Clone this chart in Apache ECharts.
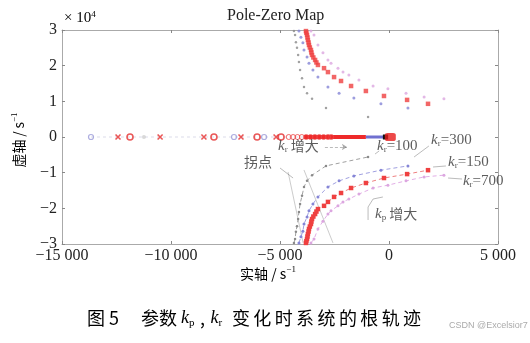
<!DOCTYPE html>
<html>
<head>
<meta charset="utf-8">
<script src="https://cdn.jsdelivr.net/npm/echarts/dist/echarts.min.js"></script>
<style>
  html, body { margin: 0; padding: 0; background: #fff; }
  #chart { width: 530px; height: 343px; }
</style>
</head>
<body>
<div id="chart"></div>
<script>
// Axis ticks
const xTicks = [-15000, -10000, -5000, 0, 5000];
const yTicks = [-30000, -20000, -10000, 0, 10000, 20000, 30000];

// Upper-half root-locus branches, [real, imag] in s^-1 (lower half is the conjugate)
const branchKr100 = [[-4360,29700],[-4310,28600],[-4270,26600],[-4220,25000],[-4170,23000],[-4130,21000],[-4080,18800],[-3990,16500],[-3900,14000],[-3760,12300],[-3530,10700],[-2890,8100],[-960,5600]];
const branchKr300 = [[-4130,29700],[-4040,28000],[-3950,26400],[-3900,24400],[-3760,22400],[-3670,20700],[-3490,18800],[-3260,16800],[-2800,14000],[-2290,12300],[-1610,10900],[-370,9300],[870,8100]];
const branchKr150 = [[-3810,29700],[-3790,29200],[-3760,28600],[-3740,27900],[-3720,27200],[-3690,26500],[-3670,25800],[-3630,25100],[-3580,24400],[-3560,23700],[-3530,23000],[-3470,22300],[-3390,21600],[-3330,20900],[-3260,20200],[-2980,19300],[-2800,18200],[-2520,16800],[-2200,15700],[-1740,14300],[-1060,12900],[-230,11500],[830,10400],[1790,9300]];
const branchKr700 = [[-3580,29700],[-3440,28600],[-3260,25800],[-3030,23600],[-2800,21600],[-2660,20700],[-2340,19300],[-2110,18200],[-1840,17400],[-1380,16000],[-730,14300],[-50,13500],[780,12300],[1610,11200],[2520,10700]];

// Real-axis poles and zeros, s^-1
const realCrosses = [-12430, -10500, -8490, -6790, -5180];
const realCirclesRed = [-11880, -8030, -6050, -4950];
const realCirclesBlue = [-13670, -7110, -5730];
const realGrey = [-11240];
const realDenseCircles = [-4600, -4400, -4200, -4000, -3800, -3600, -3400, -3200, -3000, -2800, -2650];
const realRedRun = [-3900, -1060];
const realBlueRun = [-1060, -260];
const realBlackRun = [-280, -40];
const originPole = [60];

const conj = arr => arr.map(([x, y]) => [x, -y]);
const onAxis = arr => arr.map(x => [x, 0]);

const SERIF = '"Liberation Serif", "DejaVu Serif", serif';
const CJK = '"Noto Sans CJK SC", sans-serif';

const rich = {
  k: { fontFamily: SERIF, fontStyle: 'italic', fontSize: 15, color: '#333' },
  s: { fontFamily: SERIF, fontSize: 9, color: '#333', padding: [8, 0, 0, 0] },
  t: { fontFamily: SERIF, fontSize: 15, color: '#333' },
  c: { fontFamily: CJK, fontSize: 14, color: '#333' }
};

// Annotation anchors (left-middle of each label), s^-1
const notes = [
  { pos: [-5090, -2520], text: '{k|k}{s|r}{c| 增大}' },
  { pos: [-550, -2520], text: '{k|k}{s|r}{t|=100}' },
  { pos: [1930, -840], text: '{k|k}{s|r}{t|=300}' },
  { pos: [2710, -7010], text: '{k|k}{s|r}{t|=150}' },
  { pos: [3390, -12340], text: '{k|k}{s|r}{t|=700}' },
  { pos: [-6650, -7010], text: '{c|拐点}' },
  { pos: [-640, -21590], text: '{k|k}{s|p}{c| 增大}' }
];

// Pointer / arrow paths, s^-1
const arrows = [
  { coords: [[-2940, -2800], [-1930, -2800]], dashed: true },
  { coords: [[-450, -3900], [-640, -4770]] },
  { coords: [[1830, -2520], [1150, -5610]] },
  { coords: [[2610, -8130], [2020, -8410]] },
  { coords: [[3350, -11780], [2710, -11500]] },
  { coords: [[-5000, -8690], [-4400, -11500]] },
  { coords: [[-280, -16820], [-730, -17390], [-960, -19630], [-960, -23270]] }
];
const inflectionLines = [
  [[-4630, -9810], [-3940, -29700]],
  [[-3900, -9250], [-2570, -29700]]
];

const fmtX = v => {
  if (v === 0) return '0';
  const a = Math.abs(v);
  const s = Math.floor(a / 1000) + ' ' + String(a % 1000).padStart(3, '0');
  return (v < 0 ? '\u2212' : '') + s;
};
const fmtY = v => v === 0 ? '0' : (v < 0 ? '\u2212' : '') + Math.abs(v / 10000);

const axisCommon = {
  type: 'value',
  axisLine: { show: true, onZero: false, lineStyle: { color: '#aaa', width: 1 } },
  axisTick: { show: true, inside: true, length: 3, lineStyle: { color: '#888' } },
  splitLine: { show: false }
};

const upperScatter = (data, color, symbol, size) => ({
  type: 'scatter', data, symbol, symbolSize: size,
  itemStyle: { color }, silent: true, z: 3
});
const lowerLine = (data, color, lineColor, symbol, size) => ({
  type: 'line', data, symbol, symbolSize: size, showSymbol: true,
  itemStyle: { color }, lineStyle: { color: lineColor, width: 1, type: [4, 3] },
  silent: true, z: 3
});

// Caption tail with fixed per-character advance
const tail = '变化时系统的根轨迹';
const tailTokens = tail.split('').map(ch => '{w|' + ch + '}').join('');

const axisNameRich = {
  c: { fontFamily: CJK, fontSize: 14, color: '#333' },
  u: { fontFamily: SERIF, fontSize: 9, color: '#333', padding: [0, 0, 8, 0] }
};

const chart = echarts.init(document.getElementById('chart'), null, { renderer: 'canvas' });

chart.setOption({
  animation: false,
  backgroundColor: '#fff',
  grid: { left: 62, right: 32, top: 30, bottom: 99 },
  xAxis: [
    Object.assign({}, axisCommon, {
      min: xTicks[0], max: xTicks[xTicks.length - 1], interval: 5000, position: 'bottom',
      axisLabel: { color: '#222', fontFamily: SERIF, fontSize: 16, margin: 4, formatter: fmtX }
    }),
    Object.assign({}, axisCommon, {
      min: xTicks[0], max: xTicks[xTicks.length - 1], interval: 5000, position: 'top',
      axisLabel: { show: false }
    })
  ],
  yAxis: [
    Object.assign({}, axisCommon, {
      min: yTicks[0], max: yTicks[yTicks.length - 1], interval: 10000, position: 'left',
      axisLabel: { color: '#222', fontFamily: SERIF, fontSize: 16, margin: 5, formatter: fmtY }
    }),
    Object.assign({}, axisCommon, {
      min: yTicks[0], max: yTicks[yTicks.length - 1], interval: 10000, position: 'right',
      axisLabel: { show: false }
    })
  ],
  graphic: [
    {
      type: 'text', left: 227, top: 8,
      style: { text: 'Pole-Zero Map', font: '16px ' + SERIF, fill: '#222' }
    },
    {
      type: 'text', left: 64, top: 10,
      style: {
        text: '{a|\u00d7 10}{b|4}',
        rich: {
          a: { fontFamily: SERIF, fontSize: 15, color: '#222' },
          b: { fontFamily: SERIF, fontSize: 9, color: '#222', padding: [0, 0, 8, 0] }
        }
      }
    },
    {
      // vertical axis name
      type: 'text', x: 19, y: 140, rotation: Math.PI / 2,
      style: {
        text: '{c|虚轴\u2009/\u2009s}{u|\u22121}', align: 'center', verticalAlign: 'middle',
        rich: axisNameRich
      }
    },
    {
      type: 'text', left: 240, top: 265,
      style: { text: '{c|实轴 / s}{u|\u22121}', rich: axisNameRich }
    },
    {
      type: 'text', left: 87, top: 309,
      style: {
        text: '{c|图 5}{g|}{c|参数 }{k|k}{s|p}{m|,}{k|k}{s|r}{g3|}' + tailTokens,
        rich: {
          c: { fontFamily: CJK, fontSize: 18, color: '#222' },
          w: { fontFamily: CJK, fontSize: 18, color: '#222', width: 21.4 },
          m: { fontFamily: CJK, fontSize: 18, color: '#222', width: 16, align: 'center' },
          g: { width: 22 },
          g3: { width: 8 },
          k: { fontFamily: SERIF, fontStyle: 'italic', fontSize: 18, color: '#222' },
          s: { fontFamily: SERIF, fontSize: 11, color: '#222', padding: [10, 0, 0, 0] }
        }
      }
    },
    {
      type: 'text', left: 449, top: 321,
      style: { text: 'CSDN @Excelsior7', font: '9px "Liberation Sans", sans-serif', fill: '#aaa' }
    }
  ],
  series: [
    // faint connection along the real axis
    {
      type: 'line', data: [[realCirclesBlue[0], 0], [0, 0]], symbol: 'none',
      lineStyle: { color: '#dcdcea', width: 1, type: [3, 3] }, silent: true, z: 1
    },
    // upper branches
    upperScatter(branchKr100, '#8a8a8a', 'circle', 2.5),
    upperScatter(branchKr300, '#8585d6', 'circle', 3),
    upperScatter(branchKr700, '#dca6e0', 'circle', 3),
    upperScatter(branchKr150, '#ef4040', 'rect', 4.5),
    // lower (conjugate) branches
    lowerLine(conj(branchKr100), '#8a8a8a', '#a0a0a0', 'circle', 2.5),
    lowerLine(conj(branchKr300), '#8585d6', '#a0a0e0', 'circle', 3),
    lowerLine(conj(branchKr700), '#dca6e0', '#e2aee6', 'circle', 3),
    lowerLine(conj(branchKr150), '#ef4040', '#ee8080', 'rect', 4.5),
    // real-axis runs
    {
      type: 'line', data: onAxis(realRedRun), symbol: 'none',
      lineStyle: { color: '#ee2a2a', width: 4 }, silent: true, z: 4
    },
    {
      type: 'line', data: onAxis(realBlueRun), symbol: 'none',
      lineStyle: { color: '#7070d0', width: 3 }, silent: true, z: 4
    },
    {
      type: 'line', data: onAxis(realBlackRun), symbol: 'none',
      lineStyle: { color: '#111', width: 5 }, silent: true, z: 5
    },
    {
      type: 'scatter', data: onAxis(originPole), symbol: 'roundRect', symbolSize: [11, 8],
      itemStyle: { color: '#e81c1c' }, silent: true, z: 6
    },
    {
      type: 'scatter', data: onAxis(realDenseCircles), symbol: 'circle', symbolSize: 5,
      itemStyle: { color: 'transparent', borderColor: '#ee4444', borderWidth: 1 }, silent: true, z: 5
    },
    {
      type: 'scatter', data: onAxis(realCrosses), symbol: 'path://M0,0L10,10M10,0L0,10', symbolSize: 5,
      itemStyle: { color: 'transparent', borderColor: '#e52d2d', borderWidth: 1.6 }, silent: true, z: 4
    },
    {
      type: 'scatter', data: onAxis(realCirclesRed), symbol: 'circle', symbolSize: 6,
      itemStyle: { color: 'transparent', borderColor: '#e53030', borderWidth: 1.6 }, silent: true, z: 4
    },
    {
      type: 'scatter', data: onAxis(realCirclesBlue), symbol: 'circle', symbolSize: 5,
      itemStyle: { color: 'transparent', borderColor: '#9a9ad8', borderWidth: 1.2 }, silent: true, z: 4
    },
    {
      type: 'scatter', data: onAxis(realGrey), symbol: 'circle', symbolSize: 4,
      itemStyle: { color: '#d0d0d0' }, silent: true, z: 4
    },
    // inflection-point guide lines
    {
      type: 'lines', coordinateSystem: 'cartesian2d',
      data: inflectionLines.map(c => ({ coords: c })),
      lineStyle: { color: '#9a9a9a', width: 1 }, symbol: 'none', silent: true, z: 2
    },
    // pointers
    {
      type: 'lines', coordinateSystem: 'cartesian2d', polyline: true,
      data: arrows.filter(a => !a.dashed).map(a => ({ coords: a.coords })),
      symbol: ['none', 'arrow'], symbolSize: 5,
      lineStyle: { color: '#555', width: 0.8 }, silent: true, z: 7
    },
    {
      type: 'lines', coordinateSystem: 'cartesian2d',
      data: arrows.filter(a => a.dashed).map(a => ({ coords: a.coords })),
      symbol: ['none', 'arrow'], symbolSize: 5,
      lineStyle: { color: '#555', width: 0.8, type: [3, 2] }, silent: true, z: 7
    },
    // annotation labels
    {
      type: 'scatter', symbolSize: 0, silent: true, z: 8,
      data: notes.map(n => ({
        value: n.pos,
        label: { show: true, position: 'right', distance: 0, formatter: n.text, rich }
      }))
    }
  ]
});
</script>
</body>
</html>
